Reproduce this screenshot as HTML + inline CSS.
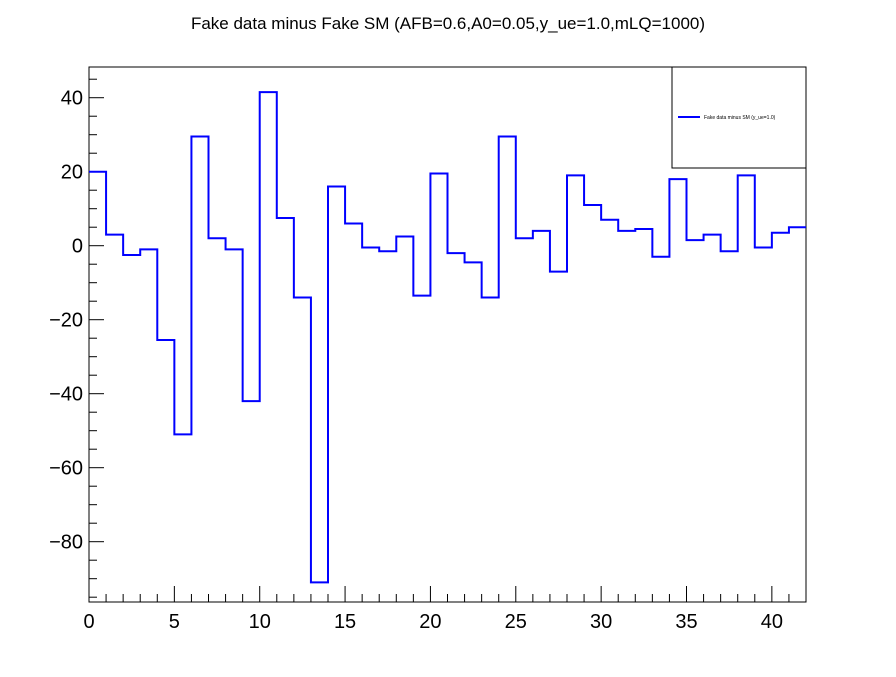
<!DOCTYPE html>
<html><head><meta charset="utf-8"><style>
body{margin:0;background:#fff;}
svg text{font-family:"Liberation Sans",sans-serif;}
</style></head><body>
<svg id="c" width="896" height="672" xmlns="http://www.w3.org/2000/svg">
<text x="448" y="29" text-anchor="middle" font-size="17">Fake data minus Fake SM (AFB=0.6,A0=0.05,y_ue=1.0,mLQ=1000)</text>
<rect x="89" y="67" width="717" height="535" fill="none" stroke="#000" stroke-width="1"/>
<g id="ticks"></g>
<path id="hist" fill="none" stroke="#0000ff" stroke-width="2"/>
<g>
<rect x="672" y="67" width="134" height="101" fill="#fff" stroke="#000"/>
<line x1="678" y1="117" x2="700" y2="117" stroke="#0000ff" stroke-width="2"/>
<text x="704" y="119" font-size="5">Fake data minus SM (y_ue=1.0)</text>
</g>
</svg>
<script>
const values=[20,3,-2.5,-1,-25.5,-51,29.5,2,-1,-42,41.5,7.5,-14,-91,16,6,-0.5,-1.5,2.5,-13.5,19.5,-2,-4.5,-14,29.5,2,4,-7,19,11,7,4,4.5,-3,18,1.5,3,-1.5,19,-0.5,3.5,5];
const xTicks=[0,5,10,15,20,25,30,35,40];
const yTicks=[-80,-60,-40,-20,0,20,40];
const X0=89,X1=806,Y0=602,Y1=67,xmin=0,xmax=42,ymin=-96.3,ymax=48.3;
const sx=v=>X0+(v-xmin)/(xmax-xmin)*(X1-X0);
const sy=v=>Y0-(v-ymin)/(ymax-ymin)*(Y0-Y1);
let d="";
values.forEach((v,i)=>{d+=(i===0?"M":"L")+sx(i)+","+sy(v)+"L"+sx(i+1)+","+sy(v);});
document.getElementById('hist').setAttribute('d',d);
const g=document.getElementById('ticks');
const NS="http://www.w3.org/2000/svg";
function line(x1,y1,x2,y2){const l=document.createElementNS(NS,'line');l.setAttribute('x1',x1);l.setAttribute('y1',y1);l.setAttribute('x2',x2);l.setAttribute('y2',y2);l.setAttribute('stroke','#000');


g.appendChild(l);}
function text(x,y,s,a,n){const t=document.createElementNS(NS,'text');t.setAttribute('x',x);t.setAttribute('y',y);t.setAttribute('text-anchor',a);t.setAttribute('font-size','20');t.textContent=s;


g.appendChild(t);}
for(let v=0;v<=42;v++){const maj=v%5===0;line(sx(v),Y0,sx(v),Y0-(maj?16:8));}
xTicks.forEach(v=>text(sx(v),628,String(v),'middle','x-tick-label'));
for(let v=-95;v<=45;v+=5){const maj=v%20===0;line(X0,sy(v),X0+(maj?15:8),sy(v));}
yTicks.forEach(v=>text(83,sy(v)+7,v<0?"\u2212"+(-v):String(v),'end','y-tick-label'));
</script>
</body></html>
